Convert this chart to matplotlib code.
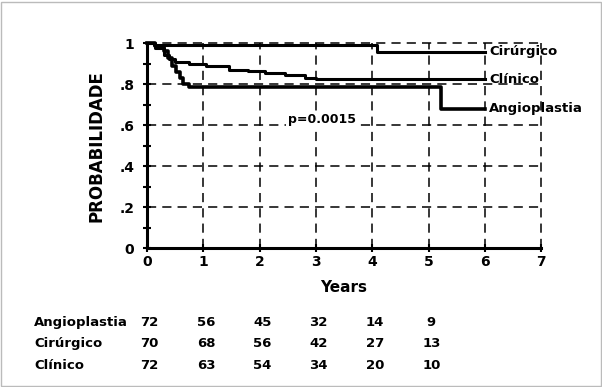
import matplotlib
matplotlib.use('Agg')
import matplotlib.pyplot as plt
from matplotlib.patches import Rectangle

# survival curves (years, probability)
cir_t = [0, 0.12, 4.08, 6.0]
cir_s = [1.0, 0.99, 0.958, 0.958]

cli_t = [0, 0.15, 0.3, 0.4, 0.5, 0.75, 1.05, 1.45, 1.8, 2.1, 2.45, 2.8, 3.0, 6.0]
cli_s = [1.0, 0.975, 0.945, 0.925, 0.91, 0.9, 0.89, 0.87, 0.865, 0.855, 0.845, 0.83, 0.825, 0.825]

ang_t = [0, 0.15, 0.3, 0.38, 0.45, 0.52, 0.58, 0.64, 0.75, 5.23, 6.0]
ang_s = [1.0, 0.985, 0.965, 0.93, 0.89, 0.86, 0.83, 0.80, 0.786, 0.68, 0.68]

groups = ['Angioplastia', 'Cirúrgico', 'Clínico']
at_risk = {
    'Angioplastia': [72, 56, 45, 32, 14, 9],
    'Cirúrgico': [70, 68, 56, 42, 27, 13],
    'Clínico': [72, 63, 54, 34, 20, 10],
}
risk_years = [0, 1, 2, 3, 4, 5]

yticks = [0, 0.2, 0.4, 0.6, 0.8, 1.0]
ytick_labels = ['0', '.2', '.4', '.6', '.8', '1']
xticks = [0, 1, 2, 3, 4, 5, 6, 7]

font = dict(family='DejaVu Sans', fontweight='heavy')

fig = plt.figure(figsize=(6.02, 3.87), dpi=100)
fig.patches.append(Rectangle((0.002, 0.002), 0.996, 0.994, transform=fig.transFigure,
                             fill=False, edgecolor='#bbbbbb', lw=1.0))
ax = fig.add_axes([0.244, 0.358, 0.655, 0.530])
ax.set_xlim(0, 7)
ax.set_ylim(0, 1)

# dashed grid, including top and right edges
for x in xticks[1:]:
    ax.axvline(x, color='black', lw=1.1, ls=(0, (6, 4)), clip_on=False)
for y in yticks[1:]:
    ax.axhline(y, color='black', lw=1.1, ls=(0, (6, 4)), clip_on=False)

for sp in ['top', 'right']:
    ax.spines[sp].set_visible(False)
for sp in ['left', 'bottom']:
    ax.spines[sp].set_linewidth(2.2)

ax.step(cir_t, cir_s, where='post', color='black', lw=2.2, clip_on=False)
ax.step(cli_t, cli_s, where='post', color='black', lw=2.2, clip_on=False)
ax.step(ang_t, ang_s, where='post', color='black', lw=2.6, clip_on=False)

ax.text(6.08, cir_s[-1], 'Cirúrgico', va='center', ha='left', fontsize=9.5, **font)
ax.text(6.08, cli_s[-1], 'Clínico', va='center', ha='left', fontsize=9.5, **font)
ax.text(6.08, ang_s[-1], 'Angioplastia', va='center', ha='left', fontsize=9.5, **font)
ax.text(3.1, 0.63, 'p=0.0015', va='center', ha='center', fontsize=9,
        bbox=dict(facecolor='white', edgecolor='none', pad=1), **font)

ax.set_yticks(yticks)
ax.set_yticklabels(ytick_labels, fontsize=10, **font)
ax.set_yticks([0.1, 0.3, 0.5, 0.7, 0.9], minor=True)
ax.set_xticks(xticks)
ax.set_xticklabels([str(x) for x in xticks], fontsize=10, **font)
ax.tick_params(axis='both', which='both', direction='inout', length=6, width=1.5, color='black')
ax.tick_params(axis='y', pad=6)
ax.tick_params(axis='x', pad=2)

ax.set_ylabel('PROBABILIDADE', fontsize=12, labelpad=10, **font)
ax.text(3.5, -0.19, 'Years', ha='center', va='center', fontsize=11, **font)

# numbers at risk
row_y = [-0.362, -0.465, -0.573]
for g, y in zip(groups, row_y):
    ax.text(-2.0, y, g, ha='left', va='center', fontsize=9.5, clip_on=False, **font)
    for yr, n in zip(risk_years, at_risk[g]):
        ax.text(yr + 0.05, y, str(n), ha='center', va='center', fontsize=9.5, clip_on=False, **font)

fig.savefig('out.png', dpi=100, facecolor='white')
